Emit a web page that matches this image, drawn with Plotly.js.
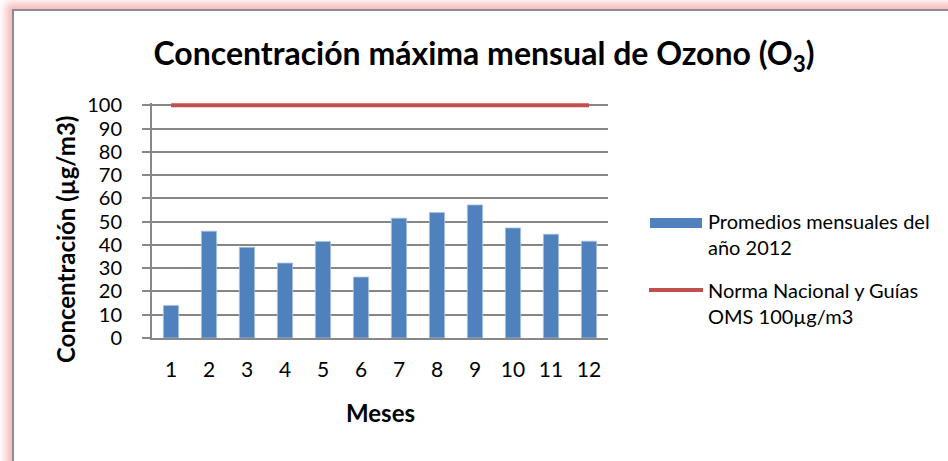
<!DOCTYPE html>
<html>
<head>
<meta charset="utf-8">
<script src="https://cdn.plot.ly/plotly-3.0.1.min.js"></script>
<style>
  html, body { margin: 0; padding: 0; background: #fff; }
  #wrap { position: relative; width: 948px; height: 461px; overflow: hidden; background: #fff; }
  #frame { position: absolute; left: 12px; top: 9px; width: 1000px; height: 500px;
           border-left: 2px solid #8c8c8c; border-top: 2px solid #8c8c8c;
           box-shadow: -2px -2px 8px 4px rgba(240,130,130,0.55); background: #fff; }
  #chart { position: absolute; left: 0; top: 0; width: 948px; height: 461px; }
</style>
</head>
<body>
<div id="wrap">
  <div id="frame"></div>
  <div id="chart"></div>
</div>
<script>
const months = ['1','2','3','4','5','6','7','8','9','10','11','12'];
const monthlyAvg2012 = [14.0, 45.9, 39.0, 32.2, 41.5, 26.2, 51.5, 53.9, 57.2, 47.3, 44.6, 41.6];
const normValues = [100,100,100,100,100,100,100,100,100,100,100,100];
const yTicks = [0,10,20,30,40,50,60,70,80,90,100];
const barName = 'Promedios mensuales del<br>año 2012';
const lineName = 'Norma Nacional y Guías<br>OMS 100µg/m3';

const FONT = 'Lato, "Open Sans", sans-serif';
const BLUE = '#4F81BD', RED = '#C0504D', GRID = '#878787';

const data = [
  { type: 'bar', x: months, y: monthlyAvg2012, name: barName,
    marker: { color: BLUE, line: { color: '#a9c0e0', width: 0.8 } }, showlegend: false },
  { type: 'scatter', mode: 'lines', x: months, y: normValues, name: lineName,
    line: { color: RED, width: 4 }, showlegend: false }
];

// plot area spans x 152..608, y 103..338 (y range 0..101 so the 100 line is not clipped)
const X0 = 152, X1 = 608, YT = 103, YB = 338;
const px = v => (v - X0) / (X1 - X0);
const py = v => (YB - v) / (YB - YT);

const layout = {
  width: 948, height: 461,
  margin: { l: X0, r: 948 - X1, t: YT, b: 461 - YB },
  paper_bgcolor: 'rgba(0,0,0,0)', plot_bgcolor: 'rgba(0,0,0,0)',
  font: { family: FONT, color: '#000' },
  bargap: 0.6,
  title: { text: 'Concentración máxima mensual de Ozono (O<sub>3</sub>)',
           font: { family: FONT, size: 32, weight: 'bold', color: '#000' },
           xref: 'container', x: 484/948, xanchor: 'center',
           yref: 'container', y: 1 - 54/461, yanchor: 'middle' },
  xaxis: { type: 'category', showgrid: false, showline: true, linecolor: GRID, linewidth: 2,
           ticks: '', tickfont: { size: 21, family: FONT }, ticklabelstandoff: 12 },
  yaxis: { range: [0, 101], tickvals: yTicks, ticktext: yTicks.map(String),
           showgrid: true, gridcolor: GRID, gridwidth: 2,
           showline: true, linecolor: GRID, linewidth: 2,
           ticks: 'outside', ticklen: 8, tickcolor: GRID, tickwidth: 2,
           tickfont: { size: 20, family: FONT }, ticklabelstandoff: 16, zeroline: false },
  shapes: [
    { type: 'rect', xref: 'paper', yref: 'paper', x0: px(650), x1: px(702), y0: py(228), y1: py(218),
      fillcolor: BLUE, line: { width: 0 } },
    { type: 'line', xref: 'paper', yref: 'paper', x0: px(649), x1: px(703), y0: py(290), y1: py(290),
      line: { color: RED, width: 4 } }
  ],
  annotations: [
    { xref: 'paper', yref: 'paper', x: px(706), y: py(234), xanchor: 'left', yanchor: 'middle',
      text: barName, align: 'left', showarrow: false, font: { size: 20, family: FONT } },
    { xref: 'paper', yref: 'paper', x: px(706), y: py(303), xanchor: 'left', yanchor: 'middle',
      text: lineName, align: 'left', showarrow: false, font: { size: 20, family: FONT } },
    { xref: 'paper', yref: 'paper', x: px(65), y: py(240), xanchor: 'center', yanchor: 'middle',
      text: 'Concentración (µg/m3)', textangle: -90, showarrow: false,
      font: { size: 24, weight: 'bold', family: FONT } },
    { xref: 'paper', yref: 'paper', x: px(380), y: py(412), xanchor: 'center', yanchor: 'middle',
      text: 'Meses', showarrow: false, font: { size: 24, weight: 'bold', family: FONT } }
  ]
};

Plotly.newPlot('chart', data, layout, { displayModeBar: false, staticPlot: true });
</script>
</body>
</html>
